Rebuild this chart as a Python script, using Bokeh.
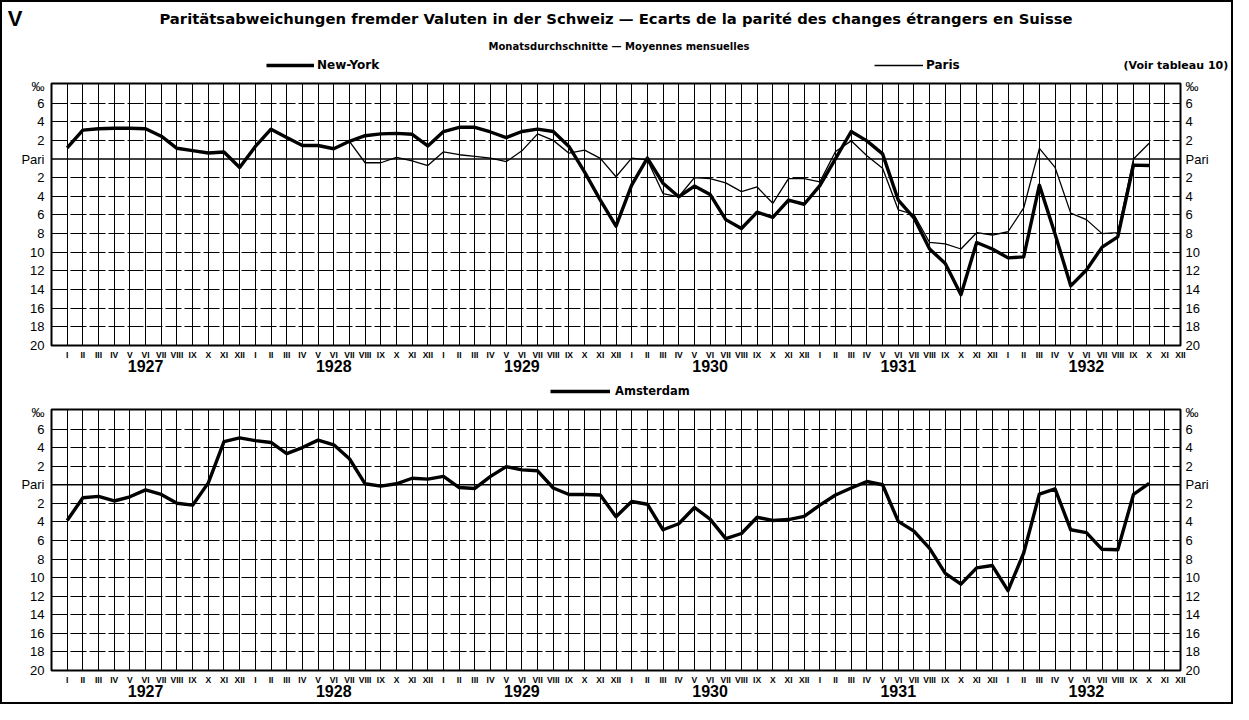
import numpy as np
from bokeh.plotting import figure
from bokeh.models import (Range1d, FixedTicker, LinearAxis, Label, Legend, LegendItem,
                          Span, ColumnDataSource, Grid)
from bokeh.layouts import column
from bokeh.embed import file_html
from bokeh.resources import INLINE

nan = float("nan")

# ---------------- data ----------------
month_labels = ["I", "II", "III", "IV", "V", "VI", "VII", "VIII", "IX", "X", "XI", "XII"]
year_labels = ["1927", "1928", "1929", "1930", "1931", "1932"]

# deviation from parity in per mille (positive = above parity), monthly Jan 1927 - Dec 1932
new_york = [
    1.2, 3.1, 3.25, 3.3, 3.3, 3.25, 2.45, 1.15, 0.9, 0.65, 0.75, -0.9,          # 1927
    1.35, 3.2, 2.3, 1.45, 1.45, 1.1, 1.9, 2.5, 2.7, 2.75, 2.65, 1.4,            # 1928
    2.95, 3.4, 3.4, 2.9, 2.3, 2.95, 3.2, 2.95, 1.35, -1.4, -4.4, -7.2,          # 1929
    -2.8, 0.1, -2.6, -4.05, -2.9, -3.8, -6.5, -7.45, -5.7, -6.25, -4.4, -4.85,  # 1930
    -2.85, 0.05, 2.95, 1.95, 0.55, -4.4, -6.3, -9.65, -11.2, -14.55, -8.95, -9.65,  # 1931
    -10.6, -10.5, -2.8, -8.05, -13.6, -11.9, -9.45, -8.35, -0.65, -0.7, nan, nan,   # 1932
]
paris = [
    nan, nan, nan, nan, nan, nan, nan, nan, nan, nan, nan, nan,                 # 1927
    nan, nan, nan, nan, nan, nan, 1.9, -0.4, -0.4, 0.18, -0.2, -0.7,            # 1928
    0.77, 0.46, 0.28, 0.1, -0.28, 0.88, 2.7, 2.0, 0.63, 0.95, 0.07, -1.9,       # 1929
    0.1, -0.1, -3.7, -4.05, -2.0, -2.1, -2.56, -3.5, -3.0, -4.75, -2.1, -2.1,   # 1930
    -2.45, 0.8, 1.95, 0.35, -1.0, -5.45, -5.95, -8.95, -9.1, -9.65, -7.9, -8.15,  # 1931
    -7.8, -5.25, 1.15, -0.9, -5.8, -6.5, -8.0, -7.9, 0.0, 1.7, nan, nan,        # 1932
]
amsterdam = [
    -3.85, -1.4, -1.25, -1.75, -1.3, -0.55, -1.05, -2.0, -2.2, 0.2, 4.65, 5.05,  # 1927
    4.75, 4.55, 3.35, 4.0, 4.8, 4.3, 2.8, 0.1, -0.15, 0.1, 0.7, 0.6,             # 1928
    0.9, -0.3, -0.4, 0.9, 1.95, 1.6, 1.5, -0.35, -1.05, -1.05, -1.1, -3.45,      # 1929
    -1.8, -2.1, -4.85, -4.2, -2.45, -3.7, -5.8, -5.25, -3.5, -3.85, -3.75, -3.4, # 1930
    -2.2, -1.1, -0.35, 0.35, 0.0, -3.95, -5.0, -6.85, -9.55, -10.7, -8.95, -8.7, # 1931
    -11.4, -7.35, -1.0, -0.45, -4.85, -5.15, -6.95, -7.0, -1.05, 0.15, nan, nan, # 1932
]

y_tick_values = [-20, -18, -16, -14, -12, -10, -8, -6, -4, -2, 0, 2, 4, 6, 7.8]
y_tick_labels = ["20", "18", "16", "14", "12", "10", "8", "6", "4", "2",
                 "Pari", "2", "4", "6", "‰"]

title_text = ("Paritätsabweichungen fremder Valuten in der Schweiz — "
              "Ecarts de la parité des changes étrangers en Suisse")
subtitle_text = "Monatsdurchschnitte — Moyennes mensuelles"

# ---------------- helpers ----------------
n_months = len(month_labels) * len(year_labels)
month_index = list(range(n_months))
all_month_labels = month_labels * len(year_labels)
year_centres = [12 * k + 5 for k in range(len(year_labels))]

FONT = "Liberation Sans"
WIDE = "DejaVu Sans"
W = 1229
BL, BR = 49, 44


def bare_axis(**kw):
    base = dict(ticker=FixedTicker(ticks=[]), axis_line_color=None,
                major_tick_line_color=None, major_tick_out=0, major_tick_in=0,
                minor_tick_line_color=None, minor_tick_out=0, minor_tick_in=0)
    base.update(kw)
    return LinearAxis(**base)


def make_panel(height, b_top, b_bottom):
    p = figure(width=W, height=height,
               x_range=Range1d(-1, n_months - 1), y_range=Range1d(-20, 8.1),
               x_axis_type=None, y_axis_type=None,
               output_backend="svg", toolbar_location=None,
               min_border_left=BL, min_border_right=BR,
               min_border_top=b_top, min_border_bottom=b_bottom)
    p.background_fill_color = "white"
    p.border_fill_color = "white"
    p.outline_line_color = "black"
    p.outline_line_width = 2

    p.add_layout(Grid(dimension=0, ticker=FixedTicker(ticks=month_index[:-1]),
                      grid_line_color="black", grid_line_width=1))
    p.add_layout(Grid(dimension=1,
                      ticker=FixedTicker(ticks=[v for v in y_tick_values if v not in (0, -20, 7.8)]),
                      grid_line_color="black", grid_line_width=1, grid_line_dash="16 3"))
    p.add_layout(Span(location=0, dimension="width", line_color="black", line_width=1.6))

    overrides = {v: t for v, t in zip(y_tick_values, y_tick_labels)}
    for side, standoff in (("left", 7), ("right", 5)):
        p.add_layout(bare_axis(ticker=FixedTicker(ticks=y_tick_values),
                               major_label_overrides=overrides,
                               major_label_standoff=standoff,
                               major_label_text_baseline="alphabetic",
                               major_label_text_font=FONT, major_label_text_font_size="13px",
                               major_label_text_color="black"), side)

    p.add_layout(bare_axis(ticker=FixedTicker(ticks=month_index),
                           major_label_overrides={i: t for i, t in zip(month_index, all_month_labels)},
                           major_label_standoff=4,
                           major_label_text_font=FONT, major_label_text_font_size="8.5px",
                           major_label_text_font_style="bold",
                           major_label_text_color="black"), "below")
    p.add_layout(bare_axis(ticker=FixedTicker(ticks=year_centres),
                           major_label_overrides={c: y for c, y in zip(year_centres, year_labels)},
                           major_label_standoff=-3,
                           major_label_text_font=FONT, major_label_text_font_size="16px",
                           major_label_text_font_style="bold",
                           major_label_text_color="black"), "below")
    return p


def make_header(height):
    # frame spans the same columns as the panels; data units = canvas pixels
    h = figure(width=W, height=height,
               x_range=Range1d(BL, W - BR), y_range=Range1d(height, 0),
               x_axis_type=None, y_axis_type=None,
               output_backend="svg", toolbar_location=None,
               min_border_left=BL, min_border_right=BR,
               min_border_top=0, min_border_bottom=0)
    h.outline_line_color = None
    h.background_fill_color = "white"
    h.border_fill_color = "white"
    return h


def legend_for(renderer, label, x, y, glyph_w, size="12px", standoff=3):
    return Legend(items=[LegendItem(label=label, renderers=[renderer])],
                  location=(x, y), background_fill_alpha=0, border_line_alpha=0,
                  padding=0, margin=0, glyph_width=glyph_w, glyph_height=14,
                  label_standoff=standoff, label_height=14,
                  label_text_font=WIDE, label_text_font_size=size,
                  label_text_font_style="bold", label_text_color="black")


def text_label(fig, x, y, text, size, font=WIDE, align="center"):
    fig.add_layout(Label(x=x, y=y, text=text, text_font=font, text_font_size=size,
                         text_font_style="bold", text_align=align,
                         text_baseline="middle", text_color="black"))


NY_STYLE = dict(line_color="black", line_width=3.4, line_join="round")
PARIS_STYLE = dict(line_color="black", line_width=1.3, line_join="round")
AMS_STYLE = dict(line_color="black", line_width=3.4, line_join="round")

# ---------------- header rows ----------------
head_a = make_header(32)
head_a.add_layout(bare_axis(axis_label="V", axis_label_orientation="horizontal",
                            axis_label_standoff=29, axis_label_text_font=FONT,
                            axis_label_text_font_size="22px",
                            axis_label_text_font_style="bold",
                            axis_label_text_color="black"), "left")
text_label(head_a, 617, 16, title_text, "14.8px")

head_b = make_header(22)
text_label(head_b, 620, 12, subtitle_text, "10px")

head_c = make_header(18)
key_ny = head_c.line(x=[nan], y=[nan], **NY_STYLE)
key_paris = head_c.line(x=[nan], y=[nan], **PARIS_STYLE)
head_c.add_layout(legend_for(key_ny, "New-York", 264 - BL, 2, 48))
head_c.add_layout(legend_for(key_paris, "Paris", 872 - BL, 2, 49))
head_c.add_layout(bare_axis(axis_label="(Voir tableau 10)", axis_label_orientation="horizontal",
                            axis_label_standoff=-57, axis_label_text_font=WIDE,
                            axis_label_text_font_size="11px",
                            axis_label_text_font_style="bold",
                            axis_label_text_color="black"), "right")

# ---------------- top panel ----------------
src_top = ColumnDataSource(dict(x=month_index, ny=new_york, paris=paris))
top = make_panel(306, 9, 35)
top.line("x", "paris", source=src_top, **PARIS_STYLE)
top.line("x", "ny", source=src_top, **NY_STYLE)

# ---------------- second header (Amsterdam legend) ----------------
head_d = make_header(22)
key_ams = head_d.line(x=[nan], y=[nan], **AMS_STYLE)
head_d.add_layout(legend_for(key_ams, "Amsterdam", 548 - BL, 4, 60, size="11.5px", standoff=5))

# ---------------- bottom panel ----------------
src_bot = ColumnDataSource(dict(x=month_index, ams=amsterdam))
bot = make_panel(300, 7, 32)
bot.line("x", "ams", source=src_bot, **AMS_STYLE)

layout = column(head_a, head_b, head_c, top, head_d, bot, spacing=0,
                styles={"border": "2px solid black"})

open("out.html", "w").write(file_html(layout, INLINE))
